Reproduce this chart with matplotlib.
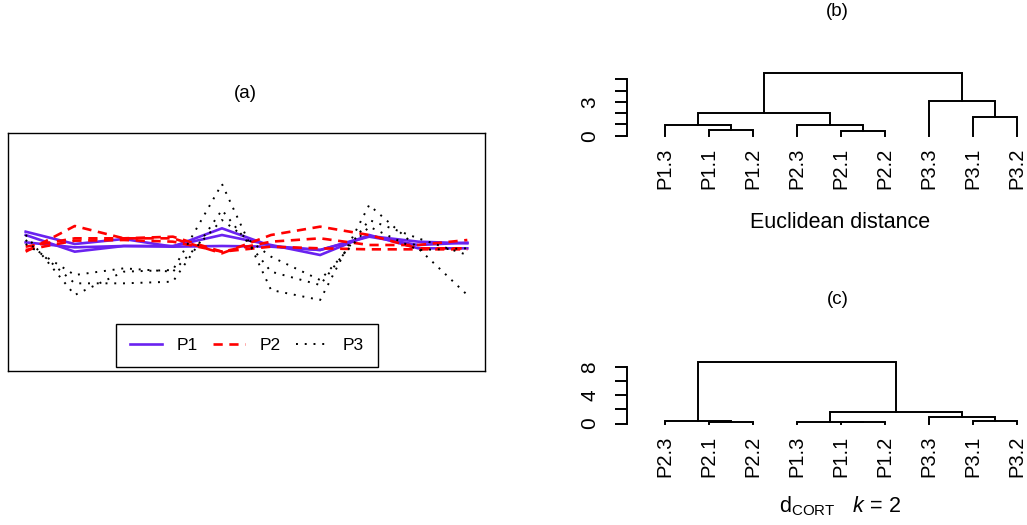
import matplotlib
matplotlib.use("Agg")
import matplotlib.pyplot as plt
from matplotlib.lines import Line2D

plt.rcParams['font.family'] = ['Liberation Sans', 'DejaVu Sans']
plt.rcParams['mathtext.fontset'] = 'custom'
plt.rcParams['mathtext.rm'] = 'Liberation Sans'
plt.rcParams['mathtext.it'] = 'Liberation Sans:italic'

# ---------------- data ----------------
time_index = list(range(1, 11))

p1_series = [
    [0.80, 0.06, 0.36, -0.10, 1.00, -0.06, -0.30, 0.54, 0.20, 0.10],
    [0.60, -0.40, -0.06, -0.06, 0.60, 0.00, -0.60, 0.60, -0.20, -0.20],
    [0.16, -0.14, -0.06, -0.10, -0.06, -0.10, -0.30, 0.50, 0.00, 0.14],
]
p2_series = [
    [-0.40, 1.14, 0.40, 0.40, -0.50, 0.60, 1.10, 0.60, -0.20, -0.20],
    [-0.10, 0.40, 0.40, 0.50, -0.40, 0.20, 0.40, 0.00, 0.00, 0.30],
    [-0.30, 0.26, 0.30, 0.20, -0.40, -0.10, -0.20, -0.26, -0.26, -0.26],
]
p3_series = [
    [0.60, -3.00, -1.60, -1.50, 3.66, -2.70, -3.30, 2.40, -0.20, -3.00],
    [0.30, -2.30, -2.30, -2.20, 2.10, -1.60, -2.40, 1.50, 0.40, -0.60],
    [0.06, -1.80, -1.40, -1.60, 1.50, -0.70, -2.10, 1.10, -0.30, -0.20],
]
legend_labels = ["P1", "P2", "P3"]

# dendrogram (b): Euclidean distance
eucl_order = ["P1.3", "P1.1", "P1.2", "P2.3", "P2.1", "P2.2", "P3.3", "P3.1", "P3.2"]
eucl_merges = [  # (left, right, height); children are leaf names or merge indices
    ("P1.1", "P1.2", 0.50),
    ("P2.1", "P2.2", 0.42),
    ("P1.3", 0, 0.99),
    ("P2.3", 1, 0.99),
    ("P3.1", "P3.2", 1.65),
    (2, 3, 2.00),
    ("P3.3", 4, 3.09),
    (5, 6, 5.55),
]
eucl_ticks = [0, 1, 2, 3, 4, 5]
eucl_ticklabels = ["0", "", "", "3", "", ""]

# dendrogram (c): d_CORT k=2
cort_order = ["P2.3", "P2.1", "P2.2", "P1.3", "P1.1", "P1.2", "P3.3", "P3.1", "P3.2"]
cort_merges = [
    ("P2.1", "P2.2", 0.18),
    ("P1.1", "P1.2", 0.15),
    ("P1.3", 1, 0.28),
    ("P2.3", 0, 0.33),
    ("P3.1", "P3.2", 0.42),
    ("P3.3", 4, 0.94),
    (2, 5, 1.65),
    (3, 6, 8.70),
]
cort_ticks = [0, 2, 4, 6, 8]
cort_ticklabels = ["0", "", "4", "", "8"]

# ---------------- layout helpers ----------------
W, H = 1027, 525
fig = plt.figure(figsize=(W / 100, H / 100), dpi=100)


def px_axes(x0, y0, x1, y1):
    return fig.add_axes([x0 / W, 1 - y1 / H, (x1 - x0) / W, (y1 - y0) / H])


# ---------------- panel (a) ----------------
ax = px_axes(8, 133, 485, 371)
purple = "#6A22F0"
for s in p1_series:
    ax.plot(time_index, s, color=purple, lw=1.9, solid_joinstyle='miter')
for s in p2_series:
    ax.plot(time_index, s, color="red", lw=1.9, linestyle=(0, (3.5, 2.5)))
for s in p3_series:
    ax.plot(time_index, s, color="black", lw=1.4, linestyle=(0, (1, 3.5)))
ax.set_xlim(0.64, 10.36)
ax.set_ylim(-7.56, 6.72)
ax.set_xticks([])
ax.set_yticks([])
for sp in ax.spines.values():
    sp.set_linewidth(1.0)
handles = [
    Line2D([], [], color=purple, lw=1.9),
    Line2D([], [], color="red", lw=1.9, linestyle=(0, (3.5, 2.5))),
    Line2D([], [], color="black", lw=1.4, linestyle=(0, (1, 3.5))),
]
leg = ax.legend(handles, legend_labels, ncol=3, loc="center",
                bbox_to_anchor=((247 - 8) / 477, 1 - (345.5 - 133) / 238),
                fontsize=12.5, frameon=True, fancybox=False, framealpha=1,
                edgecolor="black", handlelength=1.85, handletextpad=0.86,
                columnspacing=0.85, borderpad=0.8)
leg.get_frame().set_linewidth(1.0)
fig.text(245.8 / W, 1 - 93.7 / H, "(a)", ha="center", va="center", fontsize=13.5)


# ---------------- dendrogram drawing ----------------
def draw_dendro(ax, order, merges):
    pos = {name: i + 1 for i, name in enumerate(order)}
    mx, mh = [], []

    def get(c):
        if isinstance(c, str):
            return pos[c], 0.0
        return mx[c], mh[c]

    for left, right, h in merges:
        xl, hl = get(left)
        xr, hr = get(right)
        ax.plot([xl, xl, xr, xr], [hl, h, h, hr], color="black", lw=1.4,
                solid_joinstyle='miter')
        mx.append((xl + xr) / 2)
        mh.append(h)
    for name, x in pos.items():
        ax.annotate(name, xy=(x, 0), xytext=(0, -8.5), textcoords="offset points",
                    rotation=90, ha="center", va="top", fontsize=14.5)


def setup_dendro_axes(ax, zero_px, unit_px, top_px, bot_px, ticks, ticklabels):
    # x: leaf 1 at px 665, 43.96 px per leaf; axes spans px 627..1027
    ax.set_xlim(1 + (627 - 665) / 43.96, 1 + (1027 - 665) / 43.96)
    ax.set_ylim((zero_px - bot_px) / unit_px, (zero_px - top_px) / unit_px)
    for k in ["top", "right", "bottom"]:
        ax.spines[k].set_visible(False)
    ax.spines["left"].set_bounds(ticks[0], ticks[-1])
    ax.spines["left"].set_linewidth(1.4)
    ax.set_xticks([])
    ax.set_yticks(ticks)
    ax.set_yticklabels(ticklabels)
    ax.tick_params(axis="y", length=9, width=1.4, pad=11, labelsize=15,
                   labelrotation=90)
    for t in ax.get_yticklabels():
        t.set_va("center")
    ax.patch.set_alpha(0)


# ---------------- panel (b) ----------------
axb = px_axes(627, 60, 1027, 140)
draw_dendro(axb, eucl_order, eucl_merges)
setup_dendro_axes(axb, 135.7, 11.27, 60, 140, eucl_ticks, eucl_ticklabels)
fig.text(837.5 / W, 1 - 11 / H, "(b)", ha="center", va="center", fontsize=13.5)
fig.text(840 / W, 1 - 223 / H, "Euclidean distance", ha="center", va="center",
         fontsize=15.5)

# ---------------- panel (c) ----------------
axc = px_axes(627, 350, 1027, 430)
draw_dendro(axc, cort_order, cort_merges)
setup_dendro_axes(axc, 423.5, 7.08, 350, 430, cort_ticks, cort_ticklabels)
fig.text(837.5 / W, 1 - 300 / H, "(c)", ha="center", va="center", fontsize=13.5)
fig.text(840 / W, 1 - 506 / H, r"$\mathrm{d}_{\mathrm{CORT}}\quad k\,=\,2$",
         ha="center", va="center", fontsize=15.5)

fig.savefig("out.png", dpi=100)
